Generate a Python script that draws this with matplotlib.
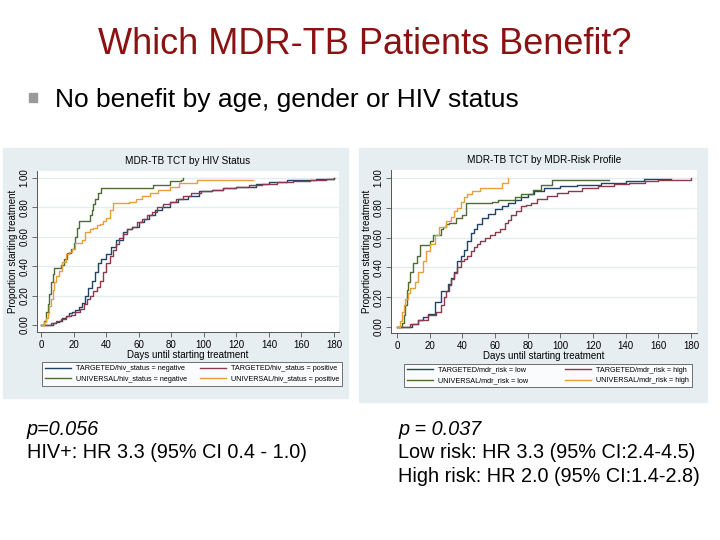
import matplotlib
matplotlib.use("Agg")
import matplotlib.pyplot as plt
from matplotlib.patches import Rectangle
from matplotlib.lines import Line2D

plt.rcParams["font.family"] = ["Liberation Sans", "DejaVu Sans"]

W, H = 720, 540

# ---------------------------------------------------------------------------
# data read off the two Kaplan-Meier (failure) curves
# ---------------------------------------------------------------------------
# left: by HIV status
hiv_tneg_days = [0, 7, 9, 11, 13, 15, 17, 19, 21, 23, 25, 27, 29, 31, 33, 35, 37, 40, 43, 46,
                 50, 53, 56, 60, 63, 66, 70, 74, 79, 84, 90, 97, 105, 112, 120, 132, 140, 151, 160, 169, 180]
hiv_tneg_prop = [0, 0.01, 0.02, 0.03, 0.05, 0.06, 0.08, 0.09, 0.10, 0.12, 0.15, 0.20, 0.25, 0.30, 0.36, 0.42, 0.45, 0.48, 0.53, 0.58,
                 0.63, 0.65, 0.67, 0.70, 0.72, 0.75, 0.78, 0.80, 0.84, 0.86, 0.88, 0.91, 0.92, 0.93, 0.94, 0.96, 0.97, 0.985, 0.99, 0.993, 1.0]

hiv_tpos_days = [0, 6, 9, 12, 15, 18, 21, 24, 26, 28, 30, 32, 34, 36, 38, 40, 42, 44, 46, 48,
                 50, 53, 56, 59, 62, 65, 68, 71, 75, 79, 83, 87, 92, 98, 105, 112, 120, 128, 136, 145,
                 155, 165, 175, 180]
hiv_tpos_prop = [0, 0.01, 0.03, 0.04, 0.06, 0.07, 0.09, 0.11, 0.14, 0.18, 0.20, 0.23, 0.26, 0.30, 0.36, 0.42, 0.47, 0.51, 0.55, 0.59,
                 0.62, 0.65, 0.67, 0.70, 0.72, 0.75, 0.77, 0.80, 0.82, 0.84, 0.86, 0.88, 0.90, 0.91, 0.92, 0.93, 0.94, 0.95, 0.96, 0.97,
                 0.98, 0.99, 0.995, 1.0]

hiv_uneg_days = [0, 2, 3, 4, 5, 6, 7, 8, 12, 14, 16, 18, 20, 21, 22, 23, 30, 31, 32, 33, 35, 37, 69, 79, 86, 87]
hiv_uneg_prop = [0, 0.03, 0.09, 0.14, 0.21, 0.29, 0.35, 0.39, 0.41, 0.45, 0.49, 0.52, 0.56, 0.60, 0.66, 0.71, 0.75, 0.78, 0.82, 0.86,
                 0.90, 0.93, 0.955, 0.98, 0.99, 1.0]

hiv_upos_days = [0, 2, 3, 4, 5, 6, 7, 8, 9, 11, 13, 15, 17, 19, 21, 25, 27, 30, 32, 34, 36, 38, 40, 42, 44,
                 54, 58, 62, 67, 72, 79, 85, 96, 130]
hiv_upos_prop = [0, 0.02, 0.05, 0.08, 0.13, 0.18, 0.24, 0.29, 0.33, 0.37, 0.43, 0.48, 0.50, 0.52, 0.56, 0.58, 0.63, 0.65, 0.66, 0.68,
                 0.69, 0.71, 0.73, 0.78, 0.83, 0.84, 0.86, 0.88, 0.90, 0.92, 0.94, 0.964, 0.986, 0.986]

# right: by MDR risk profile
risk_tlow_days = [0, 9, 13, 16, 19, 23, 27, 31, 33, 35, 37, 39, 41, 43, 45, 47, 49, 52, 56, 60,
                  64, 68, 72, 76, 80, 84, 90, 100, 110, 125, 140, 151, 168]
risk_tlow_prop = [0, 0.02, 0.05, 0.07, 0.09, 0.17, 0.24, 0.29, 0.33, 0.37, 0.44, 0.48, 0.52, 0.58, 0.63, 0.66, 0.69, 0.73, 0.76, 0.79,
                  0.81, 0.83, 0.85, 0.87, 0.89, 0.91, 0.93, 0.945, 0.955, 0.965, 0.98, 0.993, 0.995]

risk_thigh_days = [0, 8, 13, 19, 24, 27, 29, 30, 32, 33, 35, 37, 39, 41, 43, 45, 47, 49, 51, 54,
                   57, 60, 63, 66, 68, 70, 73, 76, 79, 82, 86, 92, 98, 105, 113, 123, 133, 142, 152, 160,
                   167, 180]
risk_thigh_prop = [0, 0.02, 0.05, 0.08, 0.10, 0.15, 0.20, 0.24, 0.28, 0.32, 0.36, 0.40, 0.44, 0.46, 0.48, 0.51, 0.54, 0.56, 0.58, 0.60,
                   0.62, 0.64, 0.66, 0.70, 0.72, 0.75, 0.78, 0.81, 0.82, 0.83, 0.86, 0.88, 0.90, 0.915, 0.93, 0.945, 0.957, 0.97, 0.98, 0.985,
                   0.99, 1.0]

risk_ulow_days = [0, 3, 4, 5, 6, 7, 8, 10, 12, 14, 20, 22, 27, 28, 30, 32, 36, 40, 42, 58,
                  62, 72, 76, 83, 88, 95, 130]
risk_ulow_prop = [0, 0.03, 0.08, 0.15, 0.25, 0.30, 0.37, 0.43, 0.48, 0.55, 0.58, 0.62, 0.66, 0.67, 0.69, 0.70, 0.73, 0.75, 0.83, 0.84,
                  0.85, 0.87, 0.89, 0.92, 0.95, 0.987, 0.99]

risk_uhigh_days = [0, 2, 3, 4, 5, 7, 8, 11, 13, 16, 18, 20, 23, 26, 30, 33, 35, 37, 39, 41,
                   43, 46, 51, 64, 68]
risk_uhigh_prop = [0, 0.04, 0.10, 0.15, 0.19, 0.23, 0.26, 0.30, 0.37, 0.44, 0.51, 0.56, 0.62, 0.67, 0.71, 0.74, 0.78, 0.80, 0.84, 0.87,
                   0.89, 0.91, 0.93, 0.965, 1.0]

hiv_labels = ["TARGETED/hiv_status = negative", "UNIVERSAL/hiv_status = negative",
              "TARGETED/hiv_status = positive", "UNIVERSAL/hiv_status = positive"]
risk_labels = ["TARGETED/mdr_risk = low", "UNIVERSAL/mdr_risk = low",
               "TARGETED/mdr_risk = high", "UNIVERSAL/mdr_risk = high"]

# stata s2color-ish
NAVY, MAROON, GREEN, ORANGE = "#1f4466", "#8a3a4a", "#4f6b35", "#e6a03a"
PANEL_BG = "#e7eef1"


def fx(px):
    return px / W


def fy(py):
    return 1 - py / H


fig = plt.figure(figsize=(7.2, 5.4), dpi=100)
fig.patch.set_facecolor("white")

# slide header
fig.text(fx(365), fy(54), "Which MDR-TB Patients Benefit?", ha="center", va="baseline",
         fontsize=26, color="#8b1212")
fig.patches.append(Rectangle((fx(29), fy(102)), 8 / W, 9 / H, transform=fig.transFigure,
                             color="#9a9a9a", zorder=2))
fig.text(fx(55), fy(107), "No benefit by age, gender or HIV status", ha="left", va="baseline",
         fontsize=19, color="black")


def km_panel(box, plot, xlim, ylim, title, curves, labels, leg_box):
    x0, y0, x1, y1 = box
    fig.patches.append(Rectangle((fx(x0), fy(y1)), (x1 - x0) / W, (y1 - y0) / H,
                                 transform=fig.transFigure, color=PANEL_BG, zorder=-5))
    l, t, r, b = plot
    ax = fig.add_axes([fx(l), fy(b), (r - l) / W, (b - t) / H])
    ax.set_zorder(1)
    ax.set_facecolor("white")
    for d, p, c in curves:
        ax.step(d, p, where="post", color=c, lw=1.0)
    ax.set_xlim(*xlim)
    ax.set_ylim(*ylim)
    ax.set_xticks(range(0, 181, 20))
    ax.set_yticks([0, 0.2, 0.4, 0.6, 0.8, 1.0])
    ax.set_yticklabels(["0.00", "0.20", "0.40", "0.60", "0.80", "1.00"], rotation=90, va="center")
    for g in [0.2, 0.4, 0.6, 0.8, 1.0]:
        ax.axhline(g, color="#e4ecef", lw=0.9, zorder=0)
    for s in ["top", "right"]:
        ax.spines[s].set_visible(False)
    for s in ["left", "bottom"]:
        ax.spines[s].set_color("#555555")
        ax.spines[s].set_linewidth(0.7)
    ax.tick_params(labelsize=7, length=3.5, width=0.6, color="#555555", pad=2)
    ax.set_xlabel("Days until starting treatment", fontsize=7, labelpad=0)
    ax.set_ylabel("Proportion starting treatment", fontsize=7, labelpad=1)
    ax.set_title(title, fontsize=7.2, pad=5)
    handles = [Line2D([], [], color=c, lw=1.0) for _, _, c in curves]
    lx0, ly0, lx1, ly1 = leg_box
    leg = ax.legend(handles, labels, ncol=2, loc="center",
                    bbox_to_anchor=(fx(lx0), fy(ly1), (lx1 - lx0) / W, (ly1 - ly0) / H),
                    bbox_transform=fig.transFigure, mode="expand", fontsize=5.2,
                    frameon=True, fancybox=False, handlelength=3.6, handletextpad=0.7,
                    borderaxespad=0, labelspacing=0.5, borderpad=0.4)
    leg.get_frame().set_edgecolor("#333333")
    leg.get_frame().set_linewidth(0.6)
    return ax


# handle order: col 1 = negative/low, col 2 = positive/high
km_panel((3, 148, 348, 398), (37, 171, 339, 332), (-2.6, 183.1), (-0.048, 1.048),
         "MDR-TB TCT by HIV Status",
         [(hiv_tneg_days, hiv_tneg_prop, NAVY), (hiv_uneg_days, hiv_uneg_prop, GREEN),
          (hiv_tpos_days, hiv_tpos_prop, MAROON), (hiv_upos_days, hiv_upos_prop, ORANGE)],
         hiv_labels, (42, 360, 342, 388))

km_panel((359, 148, 707, 402), (391, 170, 697, 333), (-3.7, 183.7), (-0.04, 1.054),
         "MDR-TB TCT by MDR-Risk Profile",
         [(risk_tlow_days, risk_tlow_prop, NAVY), (risk_ulow_days, risk_ulow_prop, GREEN),
          (risk_thigh_days, risk_thigh_prop, MAROON), (risk_uhigh_days, risk_uhigh_prop, ORANGE)],
         risk_labels, (404, 362, 692, 389))

# results text under the panels
fig.text(fx(27), fy(435), "p=0.056", fontsize=14.3, style="italic", va="baseline")
fig.text(fx(27), fy(458), "HIV+: HR 3.3 (95% CI 0.4 - 1.0)", fontsize=14.3, va="baseline")
fig.text(fx(398), fy(435), "p = 0.037", fontsize=14.3, style="italic", va="baseline")
fig.text(fx(398), fy(458), "Low risk: HR 3.3 (95% CI:2.4-4.5)", fontsize=14.3, va="baseline")
fig.text(fx(398), fy(482), "High risk: HR 2.0 (95% CI:1.4-2.8)", fontsize=14.3, va="baseline")

fig.savefig("out.png", dpi=100, facecolor="white")
